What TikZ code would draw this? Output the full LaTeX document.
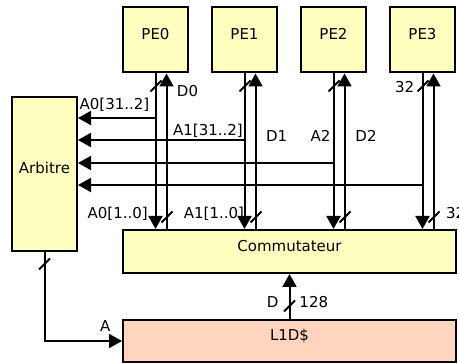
\documentclass[tikz,border=0pt]{standalone}
\usepackage{fontspec}
\setmainfont{DejaVu Sans}
\usetikzlibrary{arrows.meta,calc}
\definecolor{boxyellow}{HTML}{FFFFC0}
\definecolor{boxpeach}{HTML}{FFD5C0}
\begin{document}
\begin{tikzpicture}[x=1pt,y=-1pt,
  font=\fontsize{15}{18}\selectfont,
  box/.style={draw,line width=2pt,fill=boxyellow,inner sep=0pt,text height=11pt,text depth=11pt},
  pebox/.style={box,minimum width=65pt,minimum height=65pt},
  wire/.style={line width=2pt,-{Triangle[length=13pt,width=14pt]}},
  slashmark/.style={line width=2pt},
  lbl/.style={inner sep=0pt,text height=10.9pt,text depth=0pt}]
\useasboundingbox (0,0) rectangle (459,363);

% boxes
\node[pebox] (pe0) at (155.5,40) {PE0};
\node[pebox] (pe1) at (244.5,40) {PE1};
\node[pebox] (pe2) at (333.5,40) {PE2};
\node[pebox] (pe3) at (422.5,40) {PE3};
\node[box,minimum width=65pt,minimum height=154pt] (arb) at (44.5,174) {Arbitre};
\node[box,minimum width=333pt,minimum height=43pt] (com) at (289.5,251.5) {Commutateur};
\node[box,fill=boxpeach,minimum width=333pt,minimum height=42pt] (l1) at (289.5,341) {L1D\$};

% PE wires
\foreach \i/\xa/\yb in {0/155.5/118,1/244.5/140,2/333.5/163,3/422.5/185}{
  \coordinate (d\i) at ([xshift=11pt]pe\i.south);
  \coordinate (br\i) at (\xa,\yb);
  \draw[wire] (pe\i.south) -- (pe\i.south |- com.north);
  \draw[wire] (d\i |- com.north) -- (d\i);
  \draw[wire] (br\i) -- (br\i -| arb.east);
  \draw[slashmark] ($(pe\i.south)+(-5,18)$) -- ++(11,-11);
  \draw[slashmark] ($(d\i |- com.north)+(-5,-6.5)$) -- ++(11,-11);
}

% arbitre to L1D$
\draw[wire] (arb.south) |- (l1.west);
\draw[slashmark] ($(arb.south)+(-5.5,17.5)$) -- ++(11,-11);

% L1D$ to commutateur
\draw[wire] (l1.north) -- (com.south);
\draw[slashmark] ($(l1.north)+(-5.5,-7.5)$) -- ++(11,-11);

% labels
\node[lbl] (ld0) at (187.5,91.5) {D0};
\node[lbl] (la0h) at (114.5,104.5) {A0[31..2]};
\node[lbl] (la1h) at (208,130.5) {A1[31..2]};
\node[lbl] (ld1) at (276.7,136) {D1};
\node[lbl] (la2) at (320.5,136) {A2};
\node[lbl] (ld2) at (366,136) {D2};
\node[lbl] (l32a) at (404.7,86.7) {32};
\node[lbl] (la0l) at (117.7,213.5) {A0[1..0]};
\node[lbl] (la1l) at (214,213.5) {A1[1..0]};
\node[lbl,anchor=west] (l32b) at (446,213.5) {32};
\node[lbl] (ld) at (272.7,302.5) {D};
\node[lbl] (l128) at (313.8,302.5) {128};
\node[lbl] (la) at (105.3,326) {A};
\end{tikzpicture}
\end{document}
